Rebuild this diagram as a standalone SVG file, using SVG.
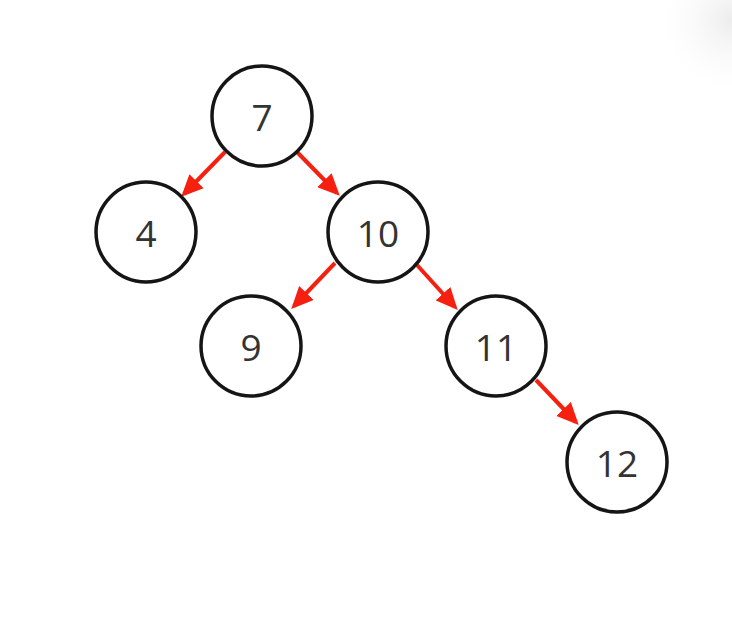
<svg xmlns="http://www.w3.org/2000/svg" width="732" height="640" viewBox="0 0 732 640">
<defs>
<style>
.n circle{fill:#fff;stroke:#151515;stroke-width:3.5}
.n text{font-family:"Open Sans","Noto Sans",sans-serif;font-size:37px;fill:#333;text-anchor:middle;dominant-baseline:central}
.e line{stroke:#f5200f;stroke-width:4;marker-end:url(#ah)}
</style>
<marker id="ah" markerWidth="5.5" markerHeight="5" refX="4.5" refY="2.5" orient="auto" markerUnits="strokeWidth">
<path d="M0,0 L5.5,2.5 L0,5 Z" fill="#f5200f"/>
</marker>
<radialGradient id="corner" cx="732" cy="20" r="80" gradientUnits="userSpaceOnUse">
<stop offset="0" stop-color="#ececec"/>
<stop offset="1" stop-color="#fff" stop-opacity="0"/>
</radialGradient>
</defs>
<rect width="732" height="640" fill="#fff"/>
<rect x="650" y="0" width="82" height="120" fill="url(#corner)"/>
<g id="edges" class="e">
<line x1="225" y1="152" x2="184" y2="194"/>
<line x1="297" y1="152" x2="337" y2="193"/>
<line x1="335" y1="263" x2="294" y2="306"/>
<line x1="417" y1="265" x2="455" y2="307"/>
<line x1="536" y1="380" x2="576" y2="422"/>
</g>
<g id="n7" class="n"><circle cx="262" cy="116" r="50"/><text x="262" y="116">7</text></g>
<g id="n4" class="n"><circle cx="146" cy="232" r="50"/><text x="146" y="232">4</text></g>
<g id="n10" class="n"><circle cx="378" cy="232" r="50"/><text x="378" y="232">10</text></g>
<g id="n9" class="n"><circle cx="251" cy="346" r="50"/><text x="251" y="346">9</text></g>
<g id="n11" class="n"><circle cx="496" cy="346" r="50"/><text x="496" y="346">11</text></g>
<g id="n12" class="n"><circle cx="617" cy="462" r="50"/><text x="617" y="462">12</text></g>
</svg>
